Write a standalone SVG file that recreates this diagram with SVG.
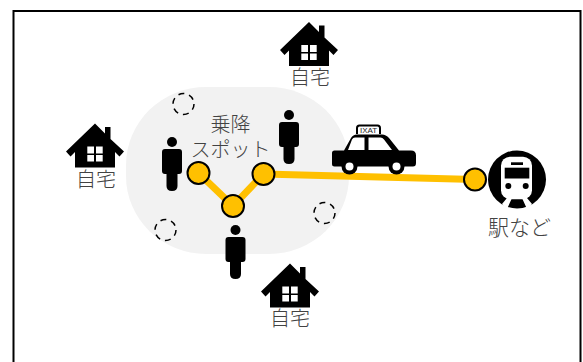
<svg xmlns="http://www.w3.org/2000/svg" width="583" height="362" viewBox="0 0 583 362">
<style>
text{font-family:"Noto Sans CJK JP","Noto Sans",sans-serif;font-size:20px;font-weight:300;fill:#404040;text-anchor:middle;opacity:.99}
.stop{fill:#ffc000;stroke:#000;stroke-width:2}
.spot{fill:none;stroke:#000;stroke-width:1.500;stroke-dasharray:6 5}
.route{fill:none;stroke:#ffc000;stroke-width:7}
</style>
<defs>
<g id="house"><path fill-rule="evenodd" d="M0 0L10 10V3.500H15.500V15.500L29 28L24.500 33L20 28.500V44H-20V28.500L-24.500 33L-29 28ZM-7.700 23V30H-1V23ZM1 23V30H7.700V23ZM-7.700 31.500V38H-1V31.500ZM1 31.500V38H7.700V31.500Z"/></g>
<g id="person"><circle cx="0" cy="5" r="5"/><path d="M-7 12H7Q10 12 10 15V34Q10 37 7 37H5.500V49Q5.500 54 0 54Q-5.500 54 -5.500 49V37H-7Q-10 37 -10 34V15Q-10 12 -7 12Z"/></g>
</defs>
<rect id="frame" x="13.500" y="11" width="567" height="360" fill="#fff" stroke="#000" stroke-width="2"/>
<g id="area"><rect x="126" y="87" width="223" height="167" rx="80" ry="78" fill="#f2f2f2"/></g>
<g id="connectors">
<path class="route" d="M198.500 173L233 206L263.500 174"/>
<path class="route" d="M263.500 174L475 179.500"/>
</g>
<g id="home-top"><use href="#house" x="309" y="22"/><text x="310" y="85">自宅</text></g>
<g id="home-left"><use href="#house" x="95" y="123.500"/><text x="96" y="187">自宅</text></g>
<g id="home-bottom"><use href="#house" x="290" y="263.500"/><text x="290" y="326">自宅</text></g>
<g id="person-1"><use href="#person" x="172" y="137"/></g>
<g id="person-2"><use href="#person" x="289" y="110"/></g>
<g id="person-3"><use href="#person" x="235.500" y="225"/></g>
<g id="spot-label"><text x="230.500" y="132">乗降<tspan x="230.500" dy="25">スポット</tspan></text></g>
<g id="stop-1"><circle class="stop" cx="198.500" cy="173" r="11"/></g>
<g id="stop-2"><circle class="stop" cx="263.500" cy="174" r="11"/></g>
<g id="stop-3"><circle class="stop" cx="233" cy="206" r="11"/></g>
<g id="stop-4"><circle class="stop" cx="475" cy="179.500" r="11"/></g>
<g id="dash-1"><circle class="spot" cx="183.500" cy="104" r="10.500"/></g>
<g id="dash-2"><circle class="spot" cx="165.500" cy="230" r="10.500"/></g>
<g id="dash-3"><circle class="spot" cx="324.500" cy="213" r="10.500"/></g>
<g id="taxi">
<path d="M356 134V128Q356 124.500 359.500 124.500H377.500Q381 124.500 381 128V134H379V128Q379 126.500 377.500 126.500H359.500Q358 126.500 358 128V134Z"/>
<text x="368.500" y="133" style="font-size:8px;font-family:'Liberation Sans',sans-serif;font-weight:400;fill:#222">IXAT</text>
<path fill-rule="evenodd" d="M334.500 150.500H344L351 138Q353 134.500 357 134.500H382Q386 134.500 389 138L399 150.500H411Q416 150.500 416 155.500V163Q416 166.500 413 166.500H404A8 8 0 0 0 389 166.500H357A8 8 0 0 0 342 166.500H334.500Q332 166.500 332 164V153Q332 150.500 334.500 150.500ZM355 137.500Q353 137.500 352 139.500L348 150H364.500V137.500ZM368.500 137.500V150H392L384 139.500Q382.500 137.500 380.500 137.500Z"/>
<circle cx="349.500" cy="166.500" r="8"/><circle cx="349.500" cy="166.500" r="4" fill="#fff"/>
<circle cx="396.500" cy="166.500" r="8"/><circle cx="396.500" cy="166.500" r="4" fill="#fff"/>
</g>
<g id="station">
<circle cx="517" cy="179.500" r="29"/>
<rect x="501" y="156.700" width="31" height="42.500" rx="9" fill="#fff"/>
<rect x="504.700" y="167.700" width="24.600" height="10.800"/>
<rect x="511" y="162.300" width="12" height="2.700"/>
<circle cx="508.300" cy="186" r="3"/><circle cx="525.700" cy="186" r="3"/>
<path d="M507 198L502 204L507 209L512 198ZM527 198L532 204L527 209L522 198Z" fill="#fff"/>
</g>
<g id="station-label"><text x="519.500" y="235" style="font-size:21px">駅など</text></g>
</svg>
